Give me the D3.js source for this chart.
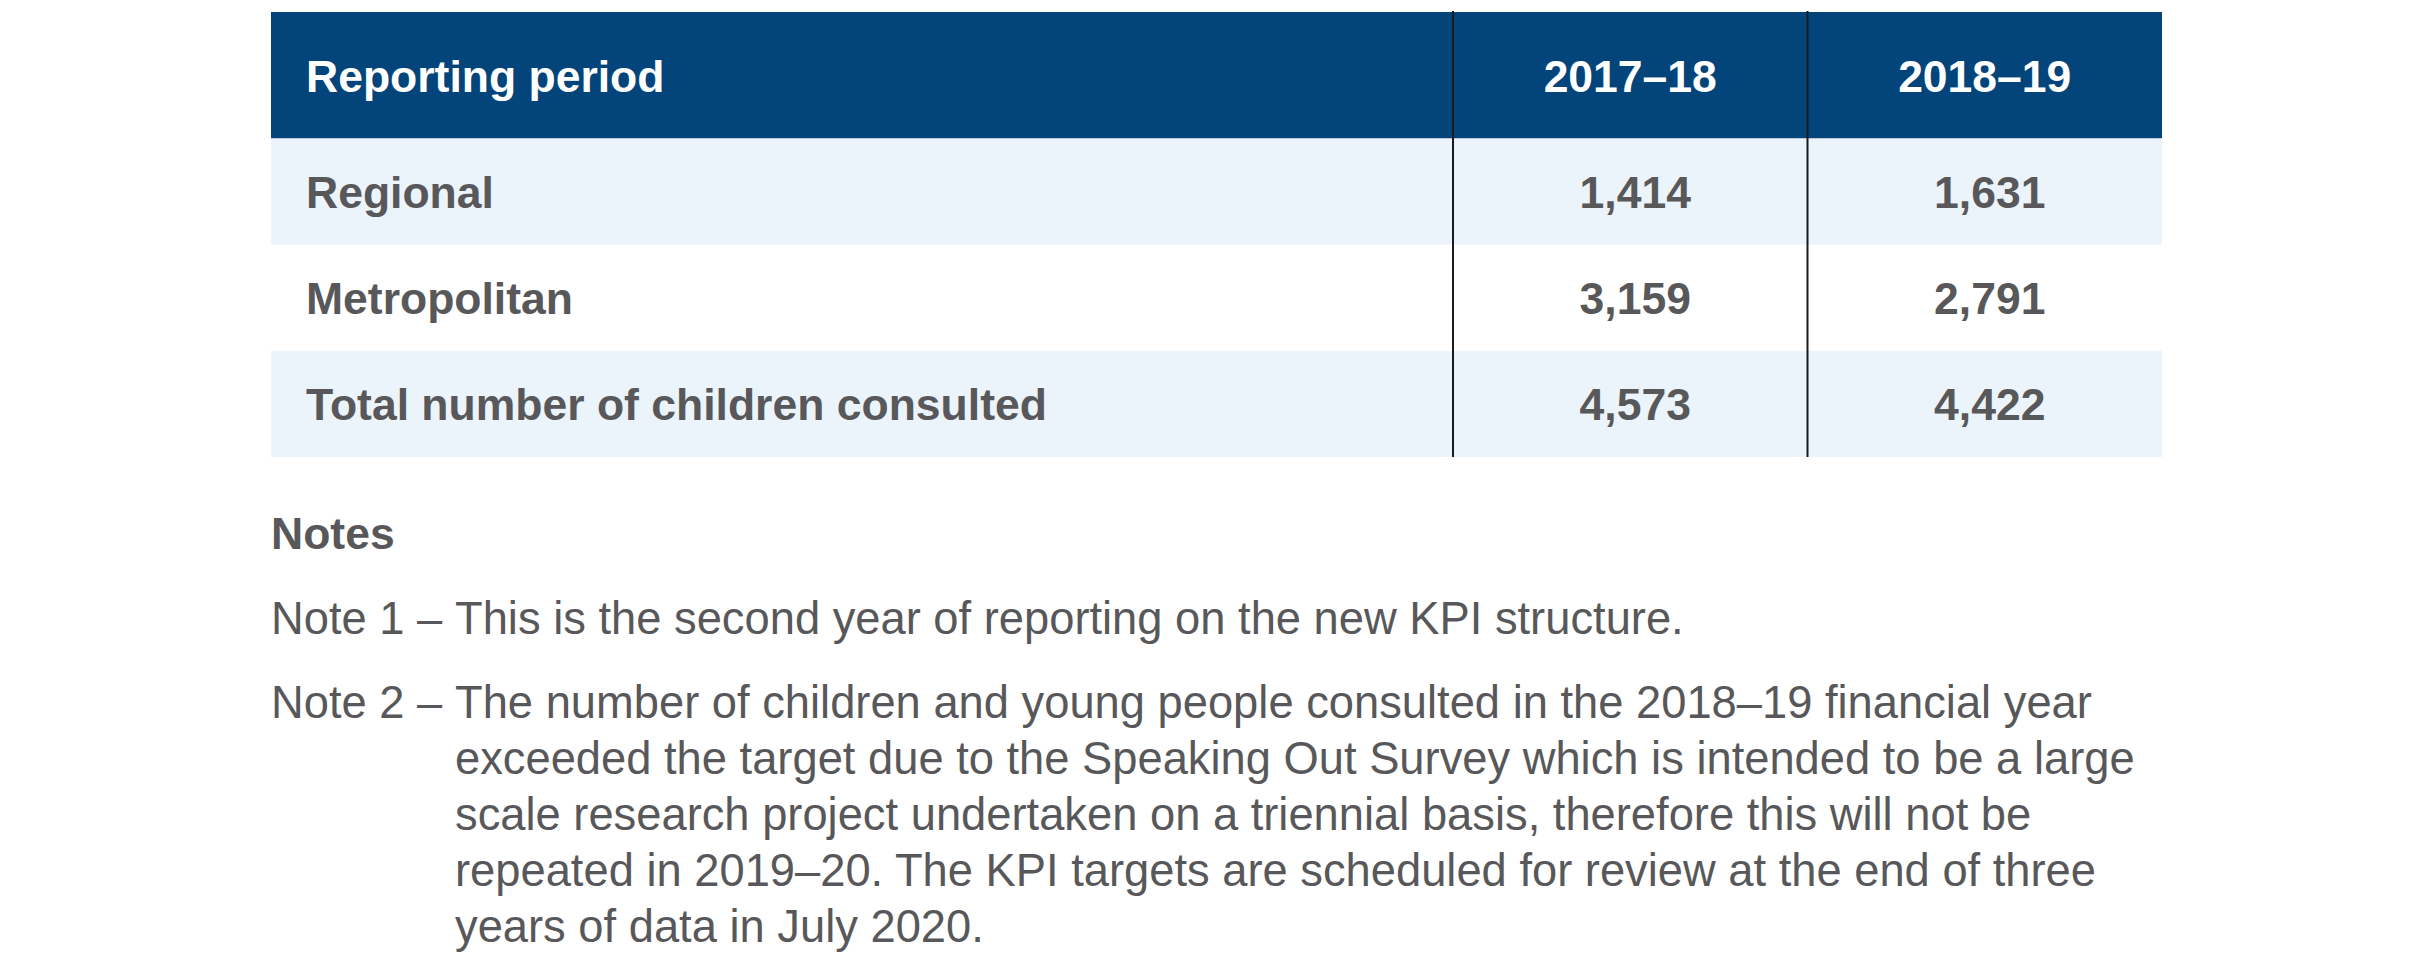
<!DOCTYPE html>
<html>
<head>
<meta charset="utf-8">
<script src="https://cdn.jsdelivr.net/npm/d3@7"></script>
<style>
  html, body { margin: 0; padding: 0; background: #ffffff; }
  svg { display: block; }
  text { font-family: "Liberation Sans", Arial, Helvetica, sans-serif; }
</style>
</head>
<body>
<div id="chart"></div>
<script>
// ---- data ----
const headerLabel = "Reporting period";
const periods = ["2017–18", "2018–19"];
const categories = ["Regional", "Metropolitan", "Total number of children consulted"];
const values2017_18 = [1414, 3159, 4573];
const values2018_19 = [1631, 2791, 4422];
const notesTitle = "Notes";
const noteLabels = ["Note 1 –", "Note 2 –"];
const note1Lines = ["This is the second year of reporting on the new KPI structure."];
const note2Lines = [
  "The number of children and young people consulted in the 2018–19 financial year",
  "exceeded the target due to the Speaking Out Survey which is intended to be a large",
  "scale research project undertaken on a triennial basis, therefore this will not be",
  "repeated in 2019–20. The KPI targets are scheduled for review at the end of three",
  "years of data in July 2020."
];

// ---- layout ----
const W = 2414, H = 954;
const tableLeft = 271, tableRight = 2162;
const headerTop = 12, headerBottom = 138.5, tableBottom = 457;
const firstValueCol = 1453;
const headerBg = "#03447a";
const stripeBg = "#ebf3fb";
const textGray = "#58585a";
const fmt = d3.format(",");

const seriesByPeriod = { [periods[0]]: values2017_18, [periods[1]]: values2018_19 };

const svg = d3.select("#chart").append("svg")
  .attr("width", W).attr("height", H)
  .attr("viewBox", `0 0 ${W} ${H}`);

svg.append("rect").attr("width", W).attr("height", H).attr("fill", "#fff");

const y = d3.scaleBand().domain(categories).range([headerBottom, tableBottom]);
const x = d3.scaleBand().domain(periods).range([firstValueCol, tableRight]);

// header
svg.append("rect")
  .attr("x", tableLeft).attr("y", headerTop)
  .attr("width", tableRight - tableLeft).attr("height", headerBottom - headerTop)
  .attr("fill", headerBg);

const headerBase = (headerTop + headerBottom) / 2 + 16.7;
svg.append("text")
  .attr("x", 306).attr("y", headerBase)
  .attr("fill", "#fff").attr("font-weight", "bold").attr("font-size", 44.5)
  .text(headerLabel);

svg.selectAll("text.period").data(periods).join("text")
  .attr("class", "period")
  .attr("x", d => x(d) + x.bandwidth() / 2).attr("y", headerBase)
  .attr("text-anchor", "middle")
  .attr("fill", "#fff").attr("font-weight", "bold").attr("font-size", 44.5)
  .text(d => d);

// body rows
svg.selectAll("rect.row").data(categories).join("rect")
  .attr("class", "row")
  .attr("x", tableLeft).attr("y", d => y(d))
  .attr("width", tableRight - tableLeft).attr("height", y.bandwidth())
  .attr("fill", (d, i) => i % 2 === 0 ? stripeBg : "#ffffff");

svg.selectAll("text.cat").data(categories).join("text")
  .attr("class", "cat")
  .attr("x", 306).attr("y", d => y(d) + y.bandwidth() / 2 + 16)
  .attr("fill", textGray).attr("font-weight", "bold").attr("font-size", 44.5)
  .text(d => d);

const cells = [];
periods.forEach(p => categories.forEach((c, i) => cells.push({ p, c, v: seriesByPeriod[p][i] })));

svg.selectAll("text.val").data(cells).join("text")
  .attr("class", "val")
  .attr("x", d => x(d.p) + x.bandwidth() / 2 + 5)
  .attr("y", d => y(d.c) + y.bandwidth() / 2 + 16)
  .attr("text-anchor", "middle")
  .attr("fill", textGray).attr("font-weight", "bold").attr("font-size", 44.5)
  .text(d => fmt(d.v));

// column dividers
svg.selectAll("line.div").data(periods).join("line")
  .attr("class", "div")
  .attr("x1", d => x(d)).attr("x2", d => x(d))
  .attr("y1", headerTop - 1).attr("y2", tableBottom)
  .attr("stroke", "#1a1a1a").attr("stroke-width", 2);

// notes
const notesX = 271, notesTextX = 455;
svg.append("text")
  .attr("x", notesX).attr("y", 549)
  .attr("fill", textGray).attr("font-weight", "bold").attr("font-size", 44.5)
  .text(notesTitle);

const lineStep = 56;
const noteBlocks = [
  { label: noteLabels[0], lines: note1Lines, base: 634 },
  { label: noteLabels[1], lines: note2Lines, base: 718 }
];
noteBlocks.forEach(b => {
  svg.append("text")
    .attr("x", notesX).attr("y", b.base)
    .attr("fill", textGray).attr("font-size", 45.3)
    .text(b.label);
  svg.append("g").selectAll("text").data(b.lines).join("text")
    .attr("x", notesTextX).attr("y", (d, i) => b.base + i * lineStep)
    .attr("fill", textGray).attr("font-size", 45.3)
    .text(d => d);
});
</script>
</body>
</html>
